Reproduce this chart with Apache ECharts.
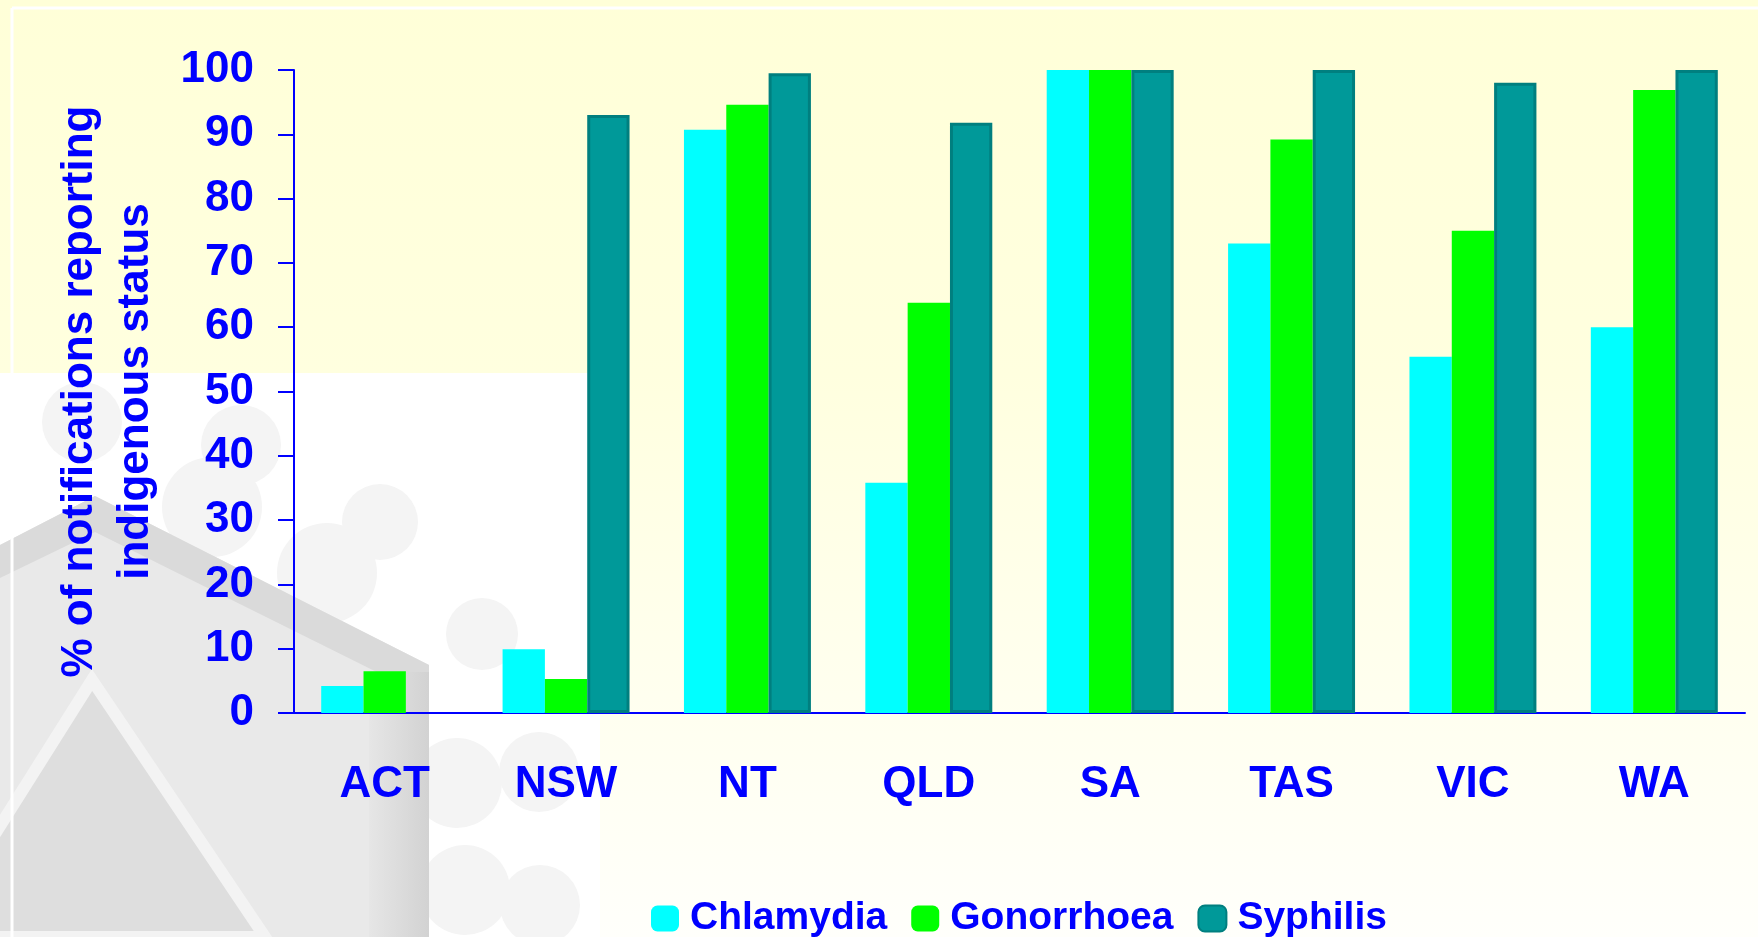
<!DOCTYPE html>
<html>
<head>
<meta charset="utf-8">
<title>Indigenous status reporting</title>
<script src="https://cdn.jsdelivr.net/npm/echarts@6/dist/echarts.min.js"></script>
<style>
  html, body { margin: 0; padding: 0; background: #fff; }
  #chart { width: 1758px; height: 937px; }
</style>
</head>
<body>
<div id="chart"></div>
<script>
// data
var states = ['ACT', 'NSW', 'NT', 'QLD', 'SA', 'TAS', 'VIC', 'WA'];
var chlamydia = [4.2, 9.9, 90.7, 35.8, 100, 73, 55.4, 60];
var gonorrhoea = [6.5, 5.3, 94.6, 63.8, 100, 89.2, 75, 96.9];
var syphilis = ['-', 93, 99.5, 91.8, 100, 100, 98, 100];
var yTicks = [0, 10, 20, 30, 40, 50, 60, 70, 80, 90, 100];

var blue = '#0000ff';
var font = '"Liberation Sans", Arial, sans-serif';

// background + grey watermark on the lower left
var bg = [
  { type: 'rect', z: -100, shape: { x: 0, y: 0, width: 1758, height: 937 },
    style: { fill: new echarts.graphic.LinearGradient(0, 0, 0, 1, [
      { offset: 0, color: '#ffffd8' }, { offset: 0.4, color: '#ffffdf' }, { offset: 1, color: '#fffffb' }]) } },
  { type: 'rect', z: -99, shape: { x: 0, y: 373, width: 600, height: 564 }, style: { fill: '#ffffff' } }
];
var dots = [[380, 522, 38], [327, 573, 50], [482, 634, 36], [457, 783, 45], [539, 772, 40],
            [82, 422, 40], [241, 445, 40], [212, 507, 50], [465, 890, 45], [540, 905, 40]];
dots.forEach(function (d) {
  bg.push({ type: 'circle', z: -98, shape: { cx: d[0], cy: d[1], r: d[2] }, style: { fill: '#f4f4f4' } });
});
bg.push(
  { type: 'polygon', z: -97, shape: { points: [[0, 545], [95, 496], [429, 665], [429, 937], [0, 937]] },
    style: { fill: '#e9e9e9' } },
  { type: 'polygon', z: -96, shape: { points: [[0, 545], [95, 496], [429, 665], [429, 698], [95, 532], [0, 578]] },
    style: { fill: '#dadada' } },
  { type: 'polygon', z: -95, shape: { points: [[92, 680], [-70, 937], [265, 937]] },
    style: { fill: '#dedede', stroke: '#f3f3f3', lineWidth: 12 } },
  { type: 'rect', z: -95, shape: { x: 369, y: 672, width: 60, height: 265 },
    style: { fill: new echarts.graphic.LinearGradient(0, 0, 1, 0, [
      { offset: 0, color: '#e6e6e6' }, { offset: 1, color: '#d2d2d2' }]) } },
  { type: 'line', z: -94, shape: { x1: 12, y1: 8, x2: 1758, y2: 8 }, style: { stroke: '#ffffff', lineWidth: 3 } },
  { type: 'line', z: -94, shape: { x1: 12, y1: 8, x2: 12, y2: 937 }, style: { stroke: '#ffffff', lineWidth: 3 } }
);

var myChart = echarts.init(document.getElementById('chart'));
var option = {
  animation: false,
  textStyle: { fontFamily: font },
  graphic: { elements: bg },
  grid: { left: 294, right: 13, top: 70, bottom: 224 },
  legend: {
    left: 646,
    top: 894,
    itemWidth: 28,
    itemHeight: 26,
    itemGap: 24,
    icon: 'roundRect',
    textStyle: { fontSize: 39, fontWeight: 'bold', color: blue, fontFamily: font, padding: [0, 0, 0, 6] },
    data: ['Chlamydia', 'Gonorrhoea', 'Syphilis']
  },
  xAxis: {
    type: 'category',
    data: states,
    axisLine: { lineStyle: { color: blue, width: 2 } },
    axisTick: { length: 16, lineStyle: { color: blue, width: 2 } },
    axisLabel: { margin: 50, fontSize: 44, fontWeight: 'bold', color: blue, fontFamily: font }
  },
  yAxis: {
    type: 'value',
    min: yTicks[0],
    max: yTicks[yTicks.length - 1],
    interval: 10,
    name: '% of notifications reporting\nindigenous status',
    nameLocation: 'middle',
    nameRotate: 90,
    nameGap: 130,
    nameTextStyle: { fontSize: 44, fontWeight: 'bold', color: blue, lineHeight: 56, fontFamily: font },
    axisLine: { show: true, lineStyle: { color: blue, width: 2 } },
    axisTick: { show: true, length: 16, lineStyle: { color: blue, width: 2 } },
    axisLabel: { margin: 40, fontSize: 44, fontWeight: 'bold', color: blue, fontFamily: font },
    splitLine: { show: false }
  },
  series: [
    { name: 'Chlamydia', type: 'bar', data: chlamydia, barGap: '0%', barCategoryGap: '30%',
      itemStyle: { color: '#00ffff' } },
    { name: 'Gonorrhoea', type: 'bar', data: gonorrhoea, barGap: '0%', barCategoryGap: '30%',
      itemStyle: { color: '#00ff00' } },
    { name: 'Syphilis', type: 'bar', data: syphilis, barGap: '0%', barCategoryGap: '30%',
      itemStyle: { color: '#009999', borderColor: '#007f7f', borderWidth: 3 } }
  ]
};
myChart.setOption(option);
</script>
</body>
</html>
